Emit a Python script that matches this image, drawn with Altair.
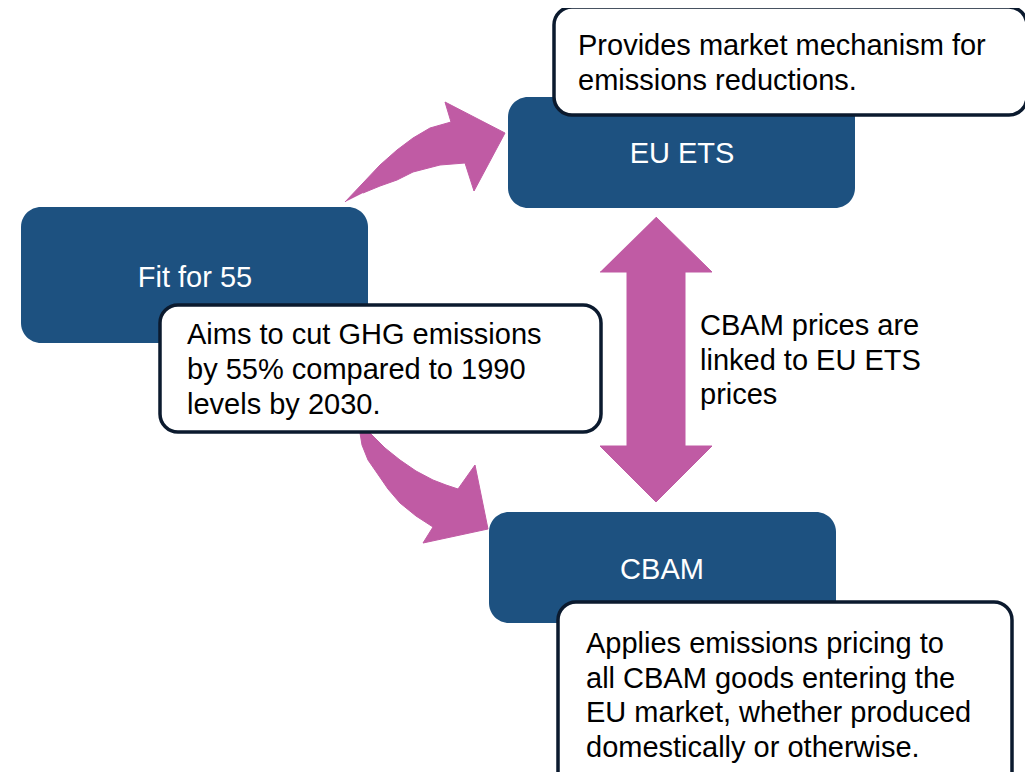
import altair as alt
import pandas as pd

BLUE = "#1D5180"
PINK = "#C05BA4"
EDGE = "#0B1A2E"
FONT = "Liberation Sans"
FS = 29

# ---- main blue boxes ----
box_names = ["Fit for 55", "EU ETS", "CBAM"]
box_x0 = [21, 508, 489]
box_x1 = [368, 855, 836]
box_y0 = [207, 97, 512]
box_y1 = [343, 208, 623]
box_label_x = [195, 682, 662]
box_label_y = [287, 163, 579]

# ---- white callout boxes ----
call_x0 = [554, 160, 558]
call_x1 = [1027, 601, 1012]
call_y0 = [7, 305, 602]
call_y1 = [115, 432, 792]

# ---- text lines (left aligned, black) ----
line_text = [
    "Provides market mechanism for",
    "emissions reductions.",
    "Aims to cut GHG emissions",
    "by 55% compared to 1990",
    "levels by 2030.",
    "CBAM prices are",
    "linked to EU ETS",
    "prices",
    "Applies emissions pricing to",
    "all CBAM goods entering the",
    "EU market, whether produced",
    "domestically or otherwise.",
]
line_x = [578, 578, 187, 187, 187, 700, 700, 700, 586, 586, 586, 586]
line_y = [55, 90, 344, 379, 414, 335, 370, 404, 653, 688, 722, 757]

# ---- arrow outlines ----
arrow_up_x = [345, 363, 380, 397, 413, 430, 451, 445, 505, 474, 465, 440, 413, 397, 380, 363]
arrow_up_y = [202, 183, 165, 150, 138, 128, 122, 102, 133, 191, 163, 165, 172, 180, 186, 193]

arrow_down_x = [373, 370, 385, 400, 416, 433, 446, 458, 475, 488, 423, 433, 416, 400, 388, 377, 368, 362, 360, 358]
arrow_down_y = [422, 433, 448, 460, 471, 480, 485, 489, 465, 529, 543, 527, 516, 503, 489, 473, 460, 445, 433, 422]

arrow_dbl_x = [656, 712, 685, 685, 712, 656, 600, 627, 627, 600]
arrow_dbl_y = [217, 272, 272, 446, 446, 502, 446, 446, 272, 272]

XS = alt.Scale(domain=[8, 1025], nice=False, zero=False)
YS = alt.Scale(domain=[8, 772], nice=False, zero=False, reverse=True)

boxes = pd.DataFrame({"name": box_names, "x0": box_x0, "x1": box_x1, "y0": box_y0, "y1": box_y1,
                      "lx": box_label_x, "ly": box_label_y})
calls = pd.DataFrame({"x0": call_x0, "x1": call_x1, "y0": call_y0, "y1": call_y1})
lines = pd.DataFrame({"t": line_text, "x": line_x, "y": line_y})

rows = []
for name, xs, ys in [("up", arrow_up_x, arrow_up_y), ("down", arrow_down_x, arrow_down_y),
                     ("dbl", arrow_dbl_x, arrow_dbl_y)]:
    for i, (a, b) in enumerate(zip(xs, ys)):
        rows.append({"shape": name, "i": i, "x": a, "y": b})
arrows_df = pd.DataFrame(rows)

arrows = alt.Chart(arrows_df).mark_line(fill=PINK, stroke=PINK, strokeWidth=1, clip=True).encode(
    x=alt.X("x:Q", scale=XS, axis=None),
    y=alt.Y("y:Q", scale=YS, axis=None),
    detail="shape:N",
    order="i:Q",
)

blue = alt.Chart(boxes).mark_rect(cornerRadius=20, color=BLUE, clip=True).encode(
    x=alt.X("x0:Q", scale=XS, axis=None), x2="x1:Q",
    y=alt.Y("y0:Q", scale=YS, axis=None), y2="y1:Q",
)

blue_text = alt.Chart(boxes).mark_text(align="center", baseline="alphabetic", font=FONT,
                                       fontSize=FS, color="white").encode(
    x=alt.X("lx:Q", scale=XS, axis=None),
    y=alt.Y("ly:Q", scale=YS, axis=None),
    text="name:N",
)

callouts = alt.Chart(calls).mark_rect(cornerRadius=18, fill="white", stroke=EDGE, strokeWidth=3.5,
                                      clip=True).encode(
    x=alt.X("x0:Q", scale=XS, axis=None), x2="x1:Q",
    y=alt.Y("y0:Q", scale=YS, axis=None), y2="y1:Q",
)

texts = alt.Chart(lines).mark_text(align="left", baseline="alphabetic", font=FONT,
                                   fontSize=FS, color="black").encode(
    x=alt.X("x:Q", scale=XS, axis=None),
    y=alt.Y("y:Q", scale=YS, axis=None),
    text="t:N",
)

chart = alt.layer(arrows, blue, blue_text, callouts, texts).properties(
    width=1017, height=764, padding=0, autosize="none", background="white"
).configure_view(stroke=None)

chart.save("out.html", embed_options={"renderer": "svg", "actions": False})
